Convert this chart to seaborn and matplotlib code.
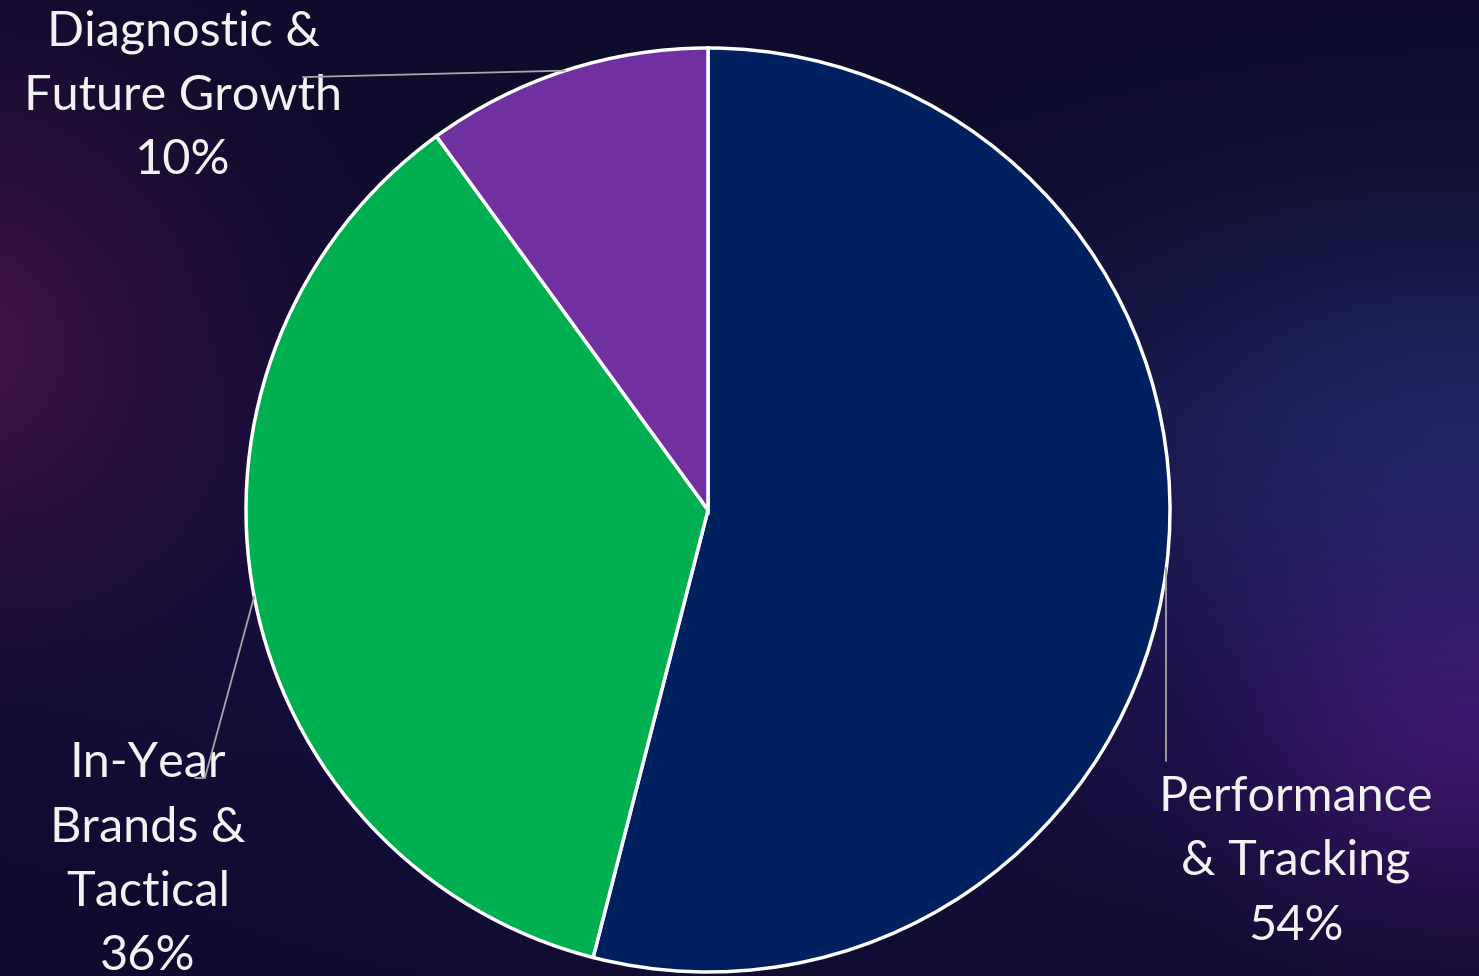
import numpy as np
import matplotlib
matplotlib.use("Agg")
import matplotlib.pyplot as plt
import seaborn as sns

# data
segments = ["Performance\n& Tracking", "In-Year\nBrands &\nTactical", "Diagnostic &\nFuture Growth"]
shares = [54, 36, 10]
colors = ["#002060", "#00B050", "#7030A0"]

sns.set_theme(style="white")
plt.rcParams["font.family"] = ["Lato", "DejaVu Sans"]

W, H = 1479, 976
fig = plt.figure(figsize=(W / 100, H / 100), dpi=100)

# dark slide background with soft glows
yy, xx = np.mgrid[0:H, 0:W]
bg = np.zeros((H, W, 3))
bg[:] = np.array([14, 11, 44]) / 255


def glow(cx, cy, sx, sy, rgb):
    g = np.exp(-(((xx - cx) / sx) ** 2 + ((yy - cy) / sy) ** 2))
    return g[..., None] * (np.array(rgb) / 255)


bg += glow(-40, 340, 250, 250, (45, 6, 22))
bg += glow(1480, 430, 420, 230, (14, 24, 45))
bg += glow(1480, 740, 250, 190, (40, 6, 48))
bg += glow(760, 640, 700, 300, (8, 4, 22))
bg = np.clip(bg, 0, 1)
bgax = fig.add_axes([0, 0, 1, 1])
bgax.imshow(bg, aspect="auto", interpolation="bilinear")
bgax.axis("off")

# pie: center (708, 510) px, radius 462 px
ax = fig.add_axes([246 / W, 4 / H, 924 / W, 924 / H])
ax.set_facecolor("none")
wedges, _ = ax.pie(shares, colors=colors, startangle=90, counterclock=False,
                   radius=1, wedgeprops=dict(edgecolor="white", linewidth=2.5))
ax.set_xlim(-1, 1)
ax.set_ylim(-1, 1)
ax.set_aspect("equal")
ax.axis("off")

txt = dict(ha="center", va="center", color="#F2F2F2", fontsize=35,
           linespacing=1.56, clip_on=False)
label_pos = [(1.273, -0.760), (-1.212, -0.757), (-1.136, 0.896)]
line_ends = [[(None, -0.543)], [(-1.089, -0.580), (-1.110, -0.580)], [(-0.877, 0.937)]]

for w, name, val, pos, ends in zip(wedges, segments, shares, label_pos, line_ends):
    mid = np.deg2rad((w.theta1 + w.theta2) / 2)
    xs = [np.cos(mid)] + [np.cos(mid) if e[0] is None else e[0] for e in ends]
    ys = [np.sin(mid)] + [e[1] for e in ends]
    ax.plot(xs, ys, color="#A6A6A6", lw=1.3, clip_on=False, zorder=5)
    ax.text(pos[0], pos[1], f"{name}\n{val}%", **txt)

fig.savefig("out.png", dpi=100)
